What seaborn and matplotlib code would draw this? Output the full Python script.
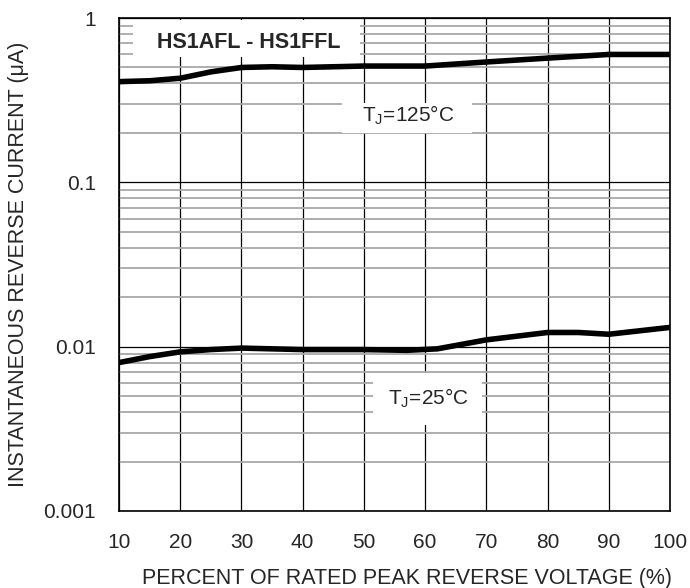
import numpy as np
import pandas as pd
import matplotlib
matplotlib.use("Agg")
import matplotlib.pyplot as plt
import seaborn as sns
from matplotlib.ticker import LogLocator, FixedLocator, NullFormatter

# data
x_125 = [10, 15, 20, 25, 30, 35, 40, 50, 60, 70, 80, 90, 100]
i_125 = [0.41, 0.415, 0.43, 0.47, 0.50, 0.505, 0.50, 0.51, 0.51, 0.54, 0.57, 0.60, 0.60]
x_25 = [10, 15, 20, 25, 30, 40, 50, 57, 62, 70, 80, 85, 90, 100]
i_25 = [0.0080, 0.0087, 0.0093, 0.0096, 0.0098, 0.0096, 0.0096, 0.0095, 0.0097, 0.0110, 0.0122, 0.0122, 0.0119, 0.0131]
x_ticks = [10, 20, 30, 40, 50, 60, 70, 80, 90, 100]
y_ticks = [0.001, 0.01, 0.1, 1]
y_labels = ["0.001", "0.01", "0.1", "1"]

df = pd.concat([
    pd.DataFrame({"v": x_125, "i": i_125, "tj": "125"}),
    pd.DataFrame({"v": x_25, "i": i_25, "tj": "25"}),
])

sns.set_style("white")
plt.rcParams["font.family"] = ["Liberation Sans", "DejaVu Sans"]

fig = plt.figure(figsize=(6.9, 5.88), dpi=100)
ax = fig.add_axes([119/690, 1 - 511/588, (670-119)/690, (511-18)/588])

ax.set_yscale("log")
ax.set_xlim(10, 100)
ax.set_ylim(0.001, 1)

# grid: black majors, grey minors
ax.yaxis.set_minor_locator(LogLocator(base=10, subs=np.arange(2, 10)))
ax.yaxis.set_minor_formatter(NullFormatter())
ax.xaxis.set_major_locator(FixedLocator(x_ticks))
ax.yaxis.set_major_locator(FixedLocator(y_ticks))
ax.set_yticklabels(y_labels)
ax.grid(which="major", axis="both", color="black", linewidth=0.9)
ax.grid(which="minor", axis="y", color="#a8a8a8", linewidth=1.3)
ax.set_axisbelow(True)
for s in ax.spines.values():
    s.set_color("black")
    s.set_linewidth(1.2)

sns.lineplot(data=df, x="v", y="i", units="tj", estimator=None, color="black",
             linewidth=4, ax=ax, legend=False)

ax.tick_params(axis="both", which="both", length=0, labelsize=15)
ax.tick_params(axis="x", pad=16)
ax.tick_params(axis="y", pad=16.5)
ax.set_xlabel("PERCENT OF RATED PEAK REVERSE VOLTAGE (%)", fontsize=15.5)
ax.set_ylabel("INSTANTANEOUS REVERSE CURRENT (\u03bcA)", fontsize=15.5)
ax.xaxis.set_label_coords((407 - 119) / 551, -(568 - 511) / 493)
ax.yaxis.set_label_coords(-(119 - 29) / 551, 0.5)

# white label boxes
def add_box(x0, y0, x1, y1):
    fig.patches.append(plt.Rectangle((x0/690, 1 - y1/588), (x1-x0)/690, (y1-y0)/588,
                                     transform=fig.transFigure, facecolor="white",
                                     edgecolor="none", zorder=1.5))

add_box(133, 20, 360, 57)
add_box(342, 103, 472, 133)
add_box(373, 373, 482, 425)

fig.text(249/690, 1 - 42/588, "HS1AFL - HS1FFL", fontsize=15.5, fontweight="bold",
         ha="center", va="center", zorder=3)
fig.text(408/690, 1 - 115/588, "T$_\\mathregular{J}$=125\u00b0C", fontsize=15,
         ha="center", va="center", zorder=3)
fig.text(428/690, 1 - 398/588, "T$_\\mathregular{J}$=25\u00b0C", fontsize=15,
         ha="center", va="center", zorder=3)

fig.savefig("out.png", dpi=100, facecolor="white")
